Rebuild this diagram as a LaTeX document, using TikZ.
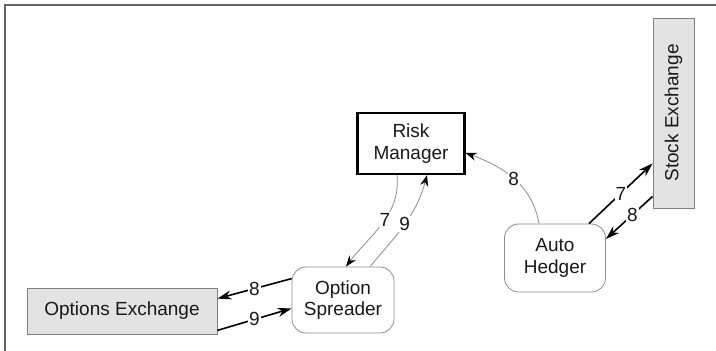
\documentclass[tikz,border=0pt]{standalone}
\usepackage{fontspec}
\setmainfont{Liberation Sans}
\usetikzlibrary{arrows.meta}

\begin{document}
\begin{tikzpicture}[x=1pt,y=1pt,
    font=\fontsize{19}{21.5}\selectfont,
    exch/.style={draw=black!50,fill=black!11,line width=0.8pt,inner sep=0pt,text=black!90},
    proc/.style={draw=black!45,rounded corners=14pt,line width=0.8pt,align=center,inner sep=0pt,text=black!90},
    boss/.style={draw=black,line width=2.2pt,align=center,inner sep=0pt,text=black!90},
    bold/.style={-{Stealth[length=14pt,width=9pt]},line width=1.6pt},
    soft/.style={-{Stealth[length=11pt,width=8pt,color=black]},draw=black!45,line width=0.8pt},
    num/.style={fill=white,inner sep=0.8pt,text=black!90}]
  \useasboundingbox (0,0) rectangle (716,351);
  % frame
  \draw[black!60,line width=1.2pt] (5,0) -- (5,346) -- (716,346);
  % boxes
  \node[exch,minimum width=190pt,minimum height=46pt] (optex) at (122,40) {Options Exchange};
  \node[proc,minimum width=102pt,minimum height=66pt] (spread) at (343,51) {Option\\Spreader};
  \node[boss,minimum width=107pt,minimum height=61pt] (risk) at (411,207.5) {Risk\\Manager};
  \node[proc,minimum width=101pt,minimum height=68pt] (hedge) at (555,93) {Auto\\Hedger};
  \node[exch,minimum width=41pt,minimum height=190pt] (stock) at (673.5,238) {\rotatebox{90}{Stock Exchange}};
  % orders
  \draw[bold] ([yshift=-12pt]spread.north west) -- node[num] {8} ([yshift=-11pt]optex.north east);
  \draw[bold] ([yshift=4pt]optex.south east) -- node[num] {9} ([yshift=25pt]spread.south west);
  \draw[soft] ([xshift=-14pt]risk.south) to[out=-85,in=53] node[num,pos=0.45] {7} ([xshift=3pt]spread.north);
  \draw[soft] ([xshift=27pt]spread.north) to[out=50,in=-105] node[num] {9} ([xshift=16pt]risk.south);
  \draw[soft] ([xshift=-16pt]hedge.north) to[out=100,in=-20] node[num] {8} ([yshift=-9.5pt]risk.east);
  \draw[bold] ([xshift=34pt]hedge.north) -- node[num] {7} ([yshift=45pt]stock.south west);
  \draw[bold] ([yshift=12pt]stock.south west) -- node[num,pos=0.43] {8} ([yshift=19pt]hedge.east);
\end{tikzpicture}
\end{document}
